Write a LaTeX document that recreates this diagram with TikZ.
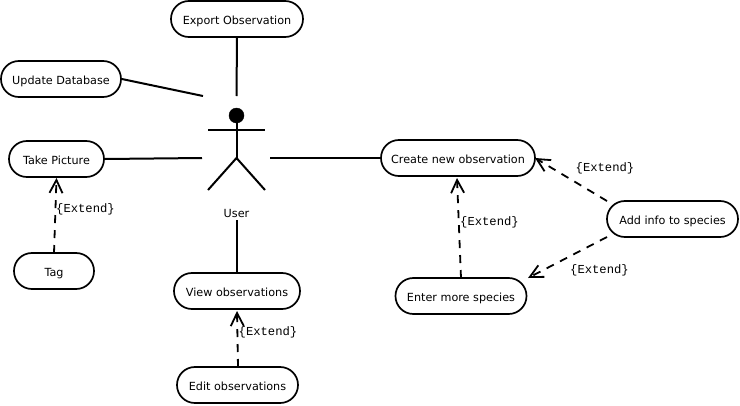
\documentclass[tikz,border=0pt]{standalone}
\usepackage{fontspec}
\setmainfont{DejaVu Sans}
\newfontfamily\extfont{Liberation Mono}
\usetikzlibrary{arrows.meta,positioning}
\tikzset{
  usecase/.style={draw=black,line width=1.7pt,rounded corners=17.9pt,minimum height=36pt,inner sep=0pt,text height=11pt,text depth=1pt,font=\fontsize{11.2}{13}\selectfont,anchor=center},
  assoc/.style={line width=2pt,draw=black},
  ext/.style={line width=1.8pt,draw=black,dash pattern=on 8pt off 7pt,-{Straight Barb[length=13pt,width=13pt,line width=1.8pt]}},
  extlabel/.style={font=\extfont\fontsize{12.2}{13}\selectfont,inner sep=0pt},
  actorline/.style={line width=2pt,draw=black},
}
\begin{document}
\begin{tikzpicture}[x=1pt,y=-1pt]
\useasboundingbox (0,0) rectangle (740,405);
\fill[white] (0,0) rectangle (740,405);
\node[usecase,minimum width=132pt] (export) at (237,19) {Export Observation};
\node[usecase,minimum width=120pt] (update) at (61,79) {Update Database};
\node[usecase,minimum width=95pt] (take) at (56.5,159) {Take Picture};
\node[usecase,minimum width=80pt] (tag) at (54,271) {Tag};
\node[usecase,minimum width=126pt] (view) at (237,291) {View observations};
\node[usecase,minimum width=121pt] (edit) at (237.5,385) {Edit observations};
\node[usecase,minimum width=154pt] (create) at (458,158) {Create new observation};
\node[usecase,minimum width=131pt] (addinfo) at (672.5,219) {Add info to species};
\node[usecase,minimum width=131pt] (enter) at (461,296) {Enter more species};
% actor
\node[circle,fill=black,draw=black,minimum size=15pt,inner sep=0pt] (head) at (236.5,115.5) {};
\coordinate (armL) at (208,130);
\coordinate (armR) at (265,130);
\coordinate (hip) at (236.5,158);
\coordinate (legL) at (208,190);
\coordinate (legR) at (265,190);
\draw[actorline] (head) -- (hip);
\draw[actorline] (armL) -- (armR);
\draw[actorline] (legL) -- (hip) -- (legR);
\node[font=\fontsize{11.2}{13}\selectfont,inner sep=0pt] (user) at (236.5,213) {User};
% free ends round the actor
\coordinate (aTop) at (236.5,96);
\coordinate (aTopLeft) at (203,96);
\coordinate (aLeft) at (202,158);
\coordinate (aRight) at (270,158);
\coordinate (aBottom) at (237,220);
% associations
\draw[assoc] (export.south) -- (aTop);
\draw[assoc] (update.east) -- (aTopLeft);
\draw[assoc] (take.east) -- (aLeft);
\draw[assoc] (aRight) -- (create.west);
\draw[assoc] (view.north) -- (aBottom);
% extends
\coordinate (tagT) at (54,253);
\coordinate (takeB) at (56.5,178);
\coordinate (editT) at (238,367);
\coordinate (viewB) at (237,311);
\coordinate (enterT) at (461,278);
\coordinate (createB) at (457,178);
\coordinate (addA) at (607,201);
\coordinate (createE) at (535,158);
\coordinate (addB) at (607,237);
\coordinate (enterE) at (528,278);
\draw[ext] (tagT) -- (takeB);
\draw[ext] (editT) -- (viewB);
\draw[ext] (enterT) -- (createB);
\draw[ext] (addA) -- (createE);
\draw[ext] (addB) -- (enterE);
% labels
\node[extlabel] (l1) at (85.5,209.8) {\{Extend\}};
\node[extlabel] (l2) at (268,332.8) {\{Extend\}};
\node[extlabel] (l3) at (489.5,222.2) {\{Extend\}};
\node[extlabel] (l4) at (605,168.8) {\{Extend\}};
\node[extlabel] (l5) at (599.5,270.2) {\{Extend\}};
\end{tikzpicture}
\end{document}
